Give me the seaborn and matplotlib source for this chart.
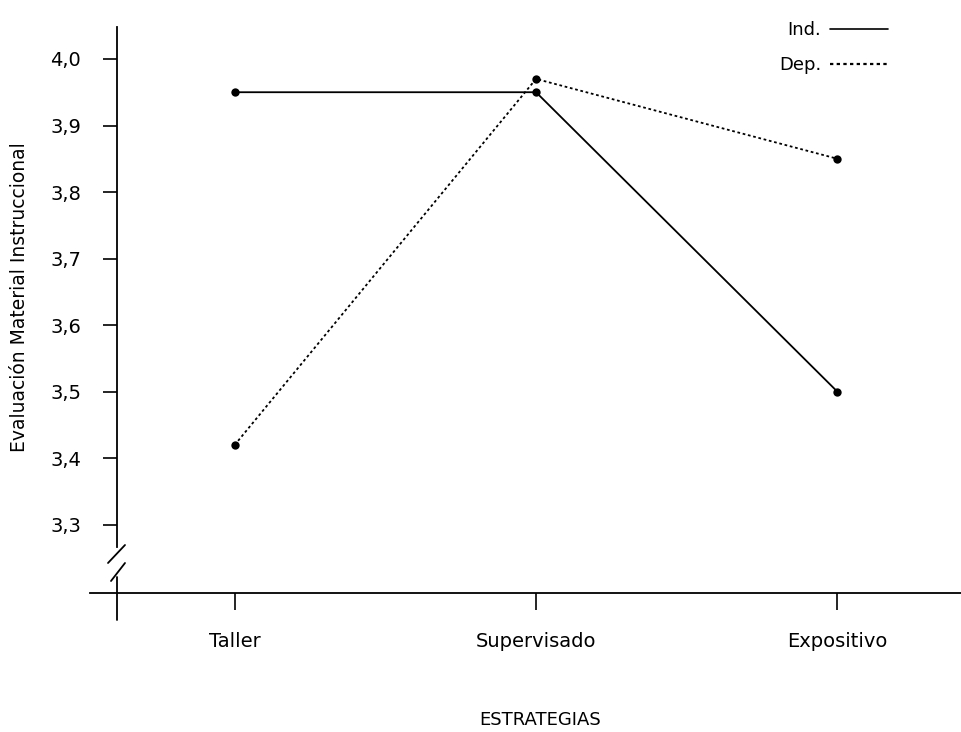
import matplotlib
matplotlib.use("Agg")
import matplotlib.pyplot as plt
from matplotlib.lines import Line2D
import seaborn as sns
import pandas as pd

# Data
categorias = ["Taller", "Supervisado", "Expositivo"]
ind_vals = [3.95, 3.95, 3.50]
dep_vals = [3.42, 3.97, 3.85]
y_ticks = [3.3, 3.4, 3.5, 3.6, 3.7, 3.8, 3.9, 4.0]
y_tick_labels = ["3,3", "3,4", "3,5", "3,6", "3,7", "3,8", "3,9", "4,0"]
grupos = ["Ind.", "Dep."]

df = pd.DataFrame({
    "estrategia": categorias * 2,
    "valor": ind_vals + dep_vals,
    "grupo": [grupos[0]] * 3 + [grupos[1]] * 3,
})
df["pos"] = df["estrategia"].map({c: i for i, c in enumerate(categorias)})

sns.set_theme(style="white")
plt.rcParams["font.family"] = ["DejaVu Sans"]
plt.rcParams["text.color"] = "black"
plt.rcParams["xtick.color"] = "black"
plt.rcParams["ytick.color"] = "black"
plt.rcParams["axes.labelcolor"] = "black"

W, H = 961, 732
fig = plt.figure(figsize=(W / 100, H / 100), dpi=100)
ax = fig.add_axes([90 / W, 1 - 620 / H, (W - 90) / W, (620 - 27) / H])

sns.lineplot(data=df, x="pos", y="valor", style="grupo", style_order=grupos,
             dashes={"Ind.": "", "Dep.": (1.5, 1.5)}, markers={"Ind.": "o", "Dep.": "o"},
             color="black", linewidth=1.3, markersize=6, markeredgewidth=0,
             legend=False, ax=ax, sort=False)

ax.set_xlim(-0.48, 2.41)
ax.set_ylim(3.157, 4.048)

for s in ["top", "right"]:
    ax.spines[s].set_visible(False)
ax.spines["left"].set_position(("data", -0.39))
ax.spines["bottom"].set_position(("data", 3.198))
ax.spines["left"].set_bounds(3.266, 4.048)
for s in ["left", "bottom"]:
    ax.spines[s].set_color("black")
    ax.spines[s].set_linewidth(1.3)

ax.set_xticks(range(len(categorias)))
ax.set_xticklabels(categorias, fontsize=14)
ax.set_yticks(y_ticks)
ax.set_yticklabels(y_tick_labels, fontsize=14)
ax.tick_params(axis="y", direction="out", length=10, width=1.2, color="black", pad=16, left=True)
ax.tick_params(axis="x", direction="out", length=12, width=1.2, color="black", pad=16, bottom=True)
ax.set_xlabel("")
ax.set_ylabel("")

# axis break marks
ff = fig.transFigure
def fl(xs, ys, **kw):
    fig.add_artist(Line2D([x / W for x in xs], [1 - y / H for y in ys], transform=ff,
                          color="black", linewidth=1.3, **kw))
fl([117, 117], [577, 620])
fl([108, 125], [563, 545])
fl([111, 125], [581, 563])

fig.text(540 / W, 1 - 720 / H, "ESTRATEGIAS", fontsize=13, ha="center", va="center")
fig.text(20 / W, 1 - 297 / H, "Evaluación Material Instruccional", fontsize=13.5,
         rotation=90, ha="center", va="center")

handles = [Line2D([], [], color="black", linewidth=1.2),
           Line2D([], [], color="black", linewidth=1.6, linestyle=(0, (1.5, 1.5)))]
fig.legend(handles, grupos, loc="upper right", bbox_to_anchor=(888 / W, 1 - 21 / H),
           bbox_transform=ff, frameon=False, markerfirst=False, fontsize=13,
           handlelength=3.2, handletextpad=0.5, labelspacing=0.95,
           borderpad=0, borderaxespad=0)

fig.savefig("out.png", dpi=100)
